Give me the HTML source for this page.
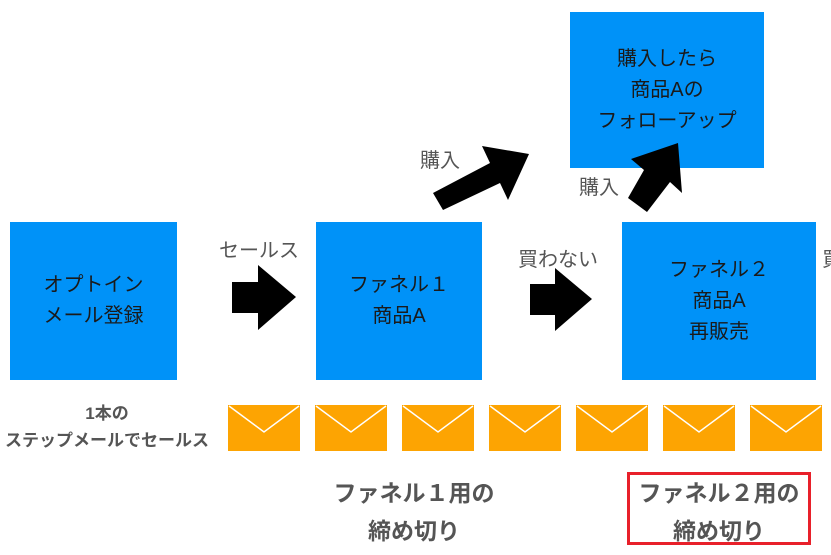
<!DOCTYPE html>
<html><head><meta charset="utf-8"><style>
body{margin:0;width:831px;height:555px;background:#fff;position:relative;overflow:hidden;font-family:"Liberation Sans","Noto Sans CJK JP",sans-serif}
.b{position:absolute;background:#0092f8;color:#1a1a1a;font-size:20px;line-height:31px;text-align:center;display:flex;align-items:center;justify-content:center}
.t{position:absolute;color:#555;font-size:20px;white-space:nowrap}
.e{position:absolute;top:405px;width:72px;height:46px;background:#fda402}
.e svg{position:absolute;left:0;top:0}
.k{position:absolute;color:#555;font-weight:bold;text-align:center;white-space:nowrap}
</style></head><body>
<div class="b" style="left:10px;top:222px;width:167px;height:158px">オプトイン<br>メール登録</div>
<div class="b" style="left:316px;top:222px;width:166px;height:158px">ファネル１<br>商品A</div>
<div class="b" style="left:622px;top:222px;width:194px;height:158px">ファネル２<br>商品A<br>再販売</div>
<div class="b" style="left:570px;top:12px;width:194px;height:156px">購入したら<br>商品Aの<br>フォローアップ</div>
<div class="t" style="left:219px;top:234px">セールス</div>
<div class="t" style="left:518px;top:243px">買わない</div>
<div class="t" style="left:822px;top:243px">買</div>
<div class="t" style="left:420px;top:144px">購入</div>
<div class="t" style="left:579px;top:171px">購入</div>
<svg style="position:absolute;left:0;top:0" width="831" height="555">
<polygon points="232,282 258,282 258,265 296,297 258,330 258,313 232,313" fill="#000"/>
<polygon points="530,284 555,284 555,268 592,299 555,331 555,315 530,315" fill="#000"/>
<polygon points="433,193 490,163 482,146 529,154 508,200 500,183 443,210" fill="#000"/>
<polygon points="628,198 644,170 631,159 678,143 682,193 670,182 647,212" fill="#000"/>
</svg>
<div class="k" style="left:0;top:400px;width:214px;font-size:17px;line-height:27px">1本の<br>ステップメールでセールス</div>
<div class="e" style="left:228px"><svg width="72" height="46"><polyline points="1,1 36,27 71,1" fill="none" stroke="#fff" stroke-width="1.5"/></svg></div>
<div class="e" style="left:315px"><svg width="72" height="46"><polyline points="1,1 36,27 71,1" fill="none" stroke="#fff" stroke-width="1.5"/></svg></div>
<div class="e" style="left:402px"><svg width="72" height="46"><polyline points="1,1 36,27 71,1" fill="none" stroke="#fff" stroke-width="1.5"/></svg></div>
<div class="e" style="left:489px"><svg width="72" height="46"><polyline points="1,1 36,27 71,1" fill="none" stroke="#fff" stroke-width="1.5"/></svg></div>
<div class="e" style="left:576px"><svg width="72" height="46"><polyline points="1,1 36,27 71,1" fill="none" stroke="#fff" stroke-width="1.5"/></svg></div>
<div class="e" style="left:663px"><svg width="72" height="46"><polyline points="1,1 36,27 71,1" fill="none" stroke="#fff" stroke-width="1.5"/></svg></div>
<div class="e" style="left:750px"><svg width="72" height="46"><polyline points="1,1 36,27 71,1" fill="none" stroke="#fff" stroke-width="1.5"/></svg></div>
<div class="k" style="left:314px;top:474px;width:200px;font-size:23px;line-height:38px">ファネル１用の<br>締め切り</div>
<div style="position:absolute;left:627px;top:472px;width:178px;height:67px;border:3px solid #e8202a"></div>
<div class="k" style="left:619px;top:474px;width:200px;font-size:23px;line-height:38px">ファネル２用の<br>締め切り</div>
</body></html>
